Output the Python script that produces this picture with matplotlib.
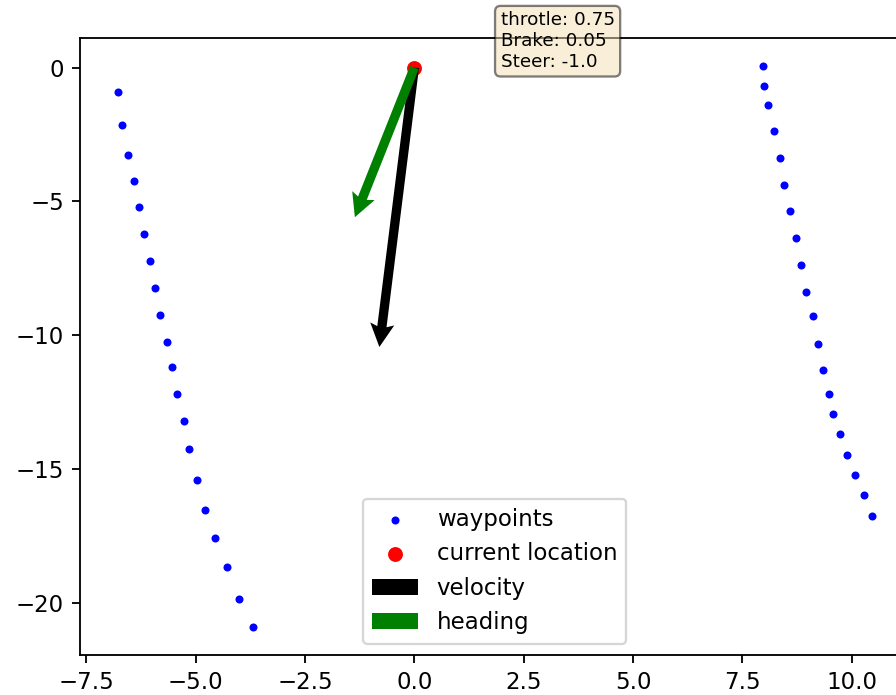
import numpy as np
import matplotlib.pyplot as plt

# waypoints (left and right lane edges)
wp_left_x = [-6.78, -6.69, -6.55, -6.41, -6.30, -6.19, -6.05, -5.93, -5.82, -5.66,
             -5.54, -5.43, -5.27, -5.15, -4.97, -4.79, -4.56, -4.29, -4.01, -3.69]
wp_left_y = [-0.93, -2.13, -3.25, -4.25, -5.22, -6.23, -7.24, -8.25, -9.25, -10.26,
             -11.19, -12.20, -13.21, -14.25, -15.41, -16.53, -17.57, -18.66, -19.85, -20.90]
wp_right_x = [7.96, 8.00, 8.09, 8.23, 8.35, 8.46, 8.58, 8.73, 8.84, 8.96,
              9.12, 9.23, 9.35, 9.47, 9.58, 9.73, 9.89, 10.08, 10.27, 10.46]
wp_right_y = [0.06, -0.70, -1.38, -2.38, -3.37, -4.38, -5.37, -6.38, -7.38, -8.37,
              -9.30, -10.31, -11.31, -12.18, -12.94, -13.68, -14.49, -15.24, -15.98, -16.74]

loc = [0.0, 0.0]
velocity = [-0.80, -10.44]
heading = [-1.36, -5.59]

throttle = 0.75
brake = 0.05
steer = -1.0

wx = np.array(wp_left_x + wp_right_x)
wy = np.array(wp_left_y + wp_right_y)

DPI = 165
fig = plt.figure(figsize=(896 / DPI, 695 / DPI), dpi=DPI)
ax = fig.add_axes([0.0893, 0.0576, 0.926, 0.8878])

ax.scatter(wx, wy, c='b', marker='.', s=25, label='waypoints')
ax.scatter(loc[0], loc[1], c='r', s=30, label='current location')
ax.quiver(loc[0], loc[1], velocity[0], velocity[1], color='k',
          angles='xy', scale_units='xy', scale=1, width=0.0112,
          headwidth=2.6, headlength=2.5, headaxislength=2.2, zorder=3, label='velocity')
ax.quiver(loc[0], loc[1], heading[0], heading[1], color='g',
          angles='xy', scale_units='xy', scale=1, width=0.0112,
          headwidth=2.6, headlength=2.5, headaxislength=2.2, zorder=3, label='heading')

textstr = 'throtle: %s\nBrake: %s\nSteer: %s' % (throttle, brake, steer)
props = dict(boxstyle='round', facecolor='wheat', alpha=0.5)
ax.text(1.97, 2.1, textstr, fontsize=8, va='top', bbox=props)

ax.legend(loc='lower center')

plt.savefig('out.png', dpi=DPI)
